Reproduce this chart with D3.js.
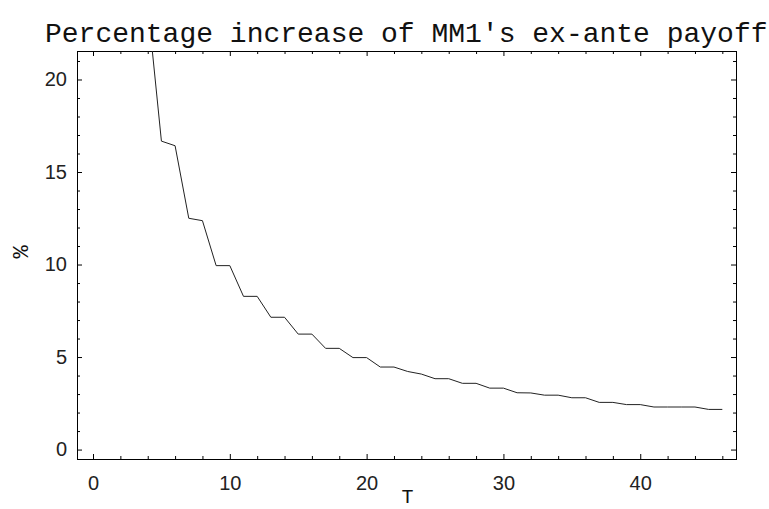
<!DOCTYPE html>
<html>
<head>
<meta charset="utf-8">
<script src="https://cdn.jsdelivr.net/npm/d3@7"></script>
<style>
  html, body { margin: 0; padding: 0; background: #fff; }
  svg { display: block; }
</style>
</head>
<body>
<svg id="chart" width="769" height="509"></svg>
<script>
// ---- data ----
const periods = [3,4,5,6,7,8,9,10,11,12,13,14,15,16,17,18,19,20,21,22,23,24,25,26,27,28,29,30,31,32,33,34,35,36,37,38,39,40,41,42,43,44,45,46];
const increasePct = [25.0,24.0,16.67,16.42,12.5,12.37,9.94,9.94,8.28,8.28,7.15,7.15,6.24,6.24,5.47,5.47,4.97,4.97,4.46,4.46,4.22,4.08,3.83,3.83,3.58,3.58,3.32,3.32,3.07,3.06,2.94,2.94,2.80,2.80,2.55,2.55,2.43,2.43,2.30,2.30,2.30,2.30,2.17,2.17];
const xMajorTicks = [0,10,20,30,40];
const xMinorTicks = [2,4,6,8,12,14,16,18,22,24,26,28,32,34,36,38,42,44,46];
const yMajorTicks = [0,5,10,15,20];
const yMinorTicks = [1,2,3,4,6,7,8,9,11,12,13,14,16,17,18,19,21];
const titleText = "Percentage increase of MM1's ex-ante payoff";
const xLabel = "T";
const yLabel = "%";

// ---- layout ----
const L = 77, R = 736, TOP = 51, B = 459;
const svg = d3.select("#chart");

const x = d3.scaleLinear().domain([-1.17, 47]).range([L, R]);
const y = d3.scaleLinear().domain([-0.51, 21.54]).range([B, TOP]);

const tickFont = "'Liberation Sans', Arial, sans-serif";
const monoFont = "'Liberation Mono', 'Courier New', monospace";

function styleAxis(g) {
  g.select(".domain").remove();
  g.selectAll(".tick line").attr("stroke", "#000").attr("stroke-width", 1);
  g.selectAll("text").attr("font-family", tickFont).attr("font-size", 20).attr("fill", "#222");
}

// bottom
svg.append("g").attr("transform", `translate(0,${B})`)
  .call(d3.axisBottom(x).tickValues(xMajorTicks).tickSize(-5).tickPadding(17).tickFormat(d3.format("d")))
  .call(styleAxis);
svg.append("g").attr("transform", `translate(0,${B})`)
  .call(d3.axisBottom(x).tickValues(xMinorTicks).tickSize(-3).tickFormat(""))
  .call(styleAxis);
// top
svg.append("g").attr("transform", `translate(0,${TOP})`)
  .call(d3.axisTop(x).tickValues(xMajorTicks).tickSize(-5).tickFormat(""))
  .call(styleAxis);
svg.append("g").attr("transform", `translate(0,${TOP})`)
  .call(d3.axisTop(x).tickValues(xMinorTicks).tickSize(-3).tickFormat(""))
  .call(styleAxis);
// left
svg.append("g").attr("transform", `translate(${L},0)`)
  .call(d3.axisLeft(y).tickValues(yMajorTicks).tickSize(-5).tickPadding(10).tickFormat(d3.format("d")))
  .call(styleAxis);
svg.append("g").attr("transform", `translate(${L},0)`)
  .call(d3.axisLeft(y).tickValues(yMinorTicks).tickSize(-3).tickFormat(""))
  .call(styleAxis);
// right
svg.append("g").attr("transform", `translate(${R},0)`)
  .call(d3.axisRight(y).tickValues(yMajorTicks).tickSize(-5).tickFormat(""))
  .call(styleAxis);
svg.append("g").attr("transform", `translate(${R},0)`)
  .call(d3.axisRight(y).tickValues(yMinorTicks).tickSize(-3).tickFormat(""))
  .call(styleAxis);

// frame
svg.append("rect")
  .attr("x", L + 0.5).attr("y", TOP + 0.5)
  .attr("width", R - L).attr("height", B - TOP)
  .attr("fill", "none").attr("stroke", "#000").attr("stroke-width", 1);

// clip
svg.append("clipPath").attr("id", "plotclip")
  .append("rect").attr("x", L).attr("y", TOP).attr("width", R - L).attr("height", B - TOP);

const pts = periods.map((t, i) => [t, increasePct[i]]);
const line = d3.line().x(d => x(d[0])).y(d => y(d[1]));
svg.append("path")
  .datum(pts)
  .attr("clip-path", "url(#plotclip)")
  .attr("fill", "none")
  .attr("stroke", "#222")
  .attr("stroke-width", 1)
  .attr("d", line);

// title
svg.append("text")
  .attr("x", 45).attr("y", 42)
  .attr("font-family", monoFont).attr("font-size", 28).attr("fill", "#111")
  .text(titleText);

// axis labels
svg.append("text")
  .attr("x", (L + R) / 2 + 1).attr("y", 503)
  .attr("text-anchor", "middle")
  .attr("font-family", monoFont).attr("font-size", 20).attr("fill", "#111")
  .text(xLabel);
svg.append("text")
  .attr("transform", `translate(28,252) rotate(-90)`)
  .attr("text-anchor", "middle")
  .attr("font-family", monoFont).attr("font-size", 22).attr("fill", "#111")
  .text(yLabel);
</script>
</body>
</html>
